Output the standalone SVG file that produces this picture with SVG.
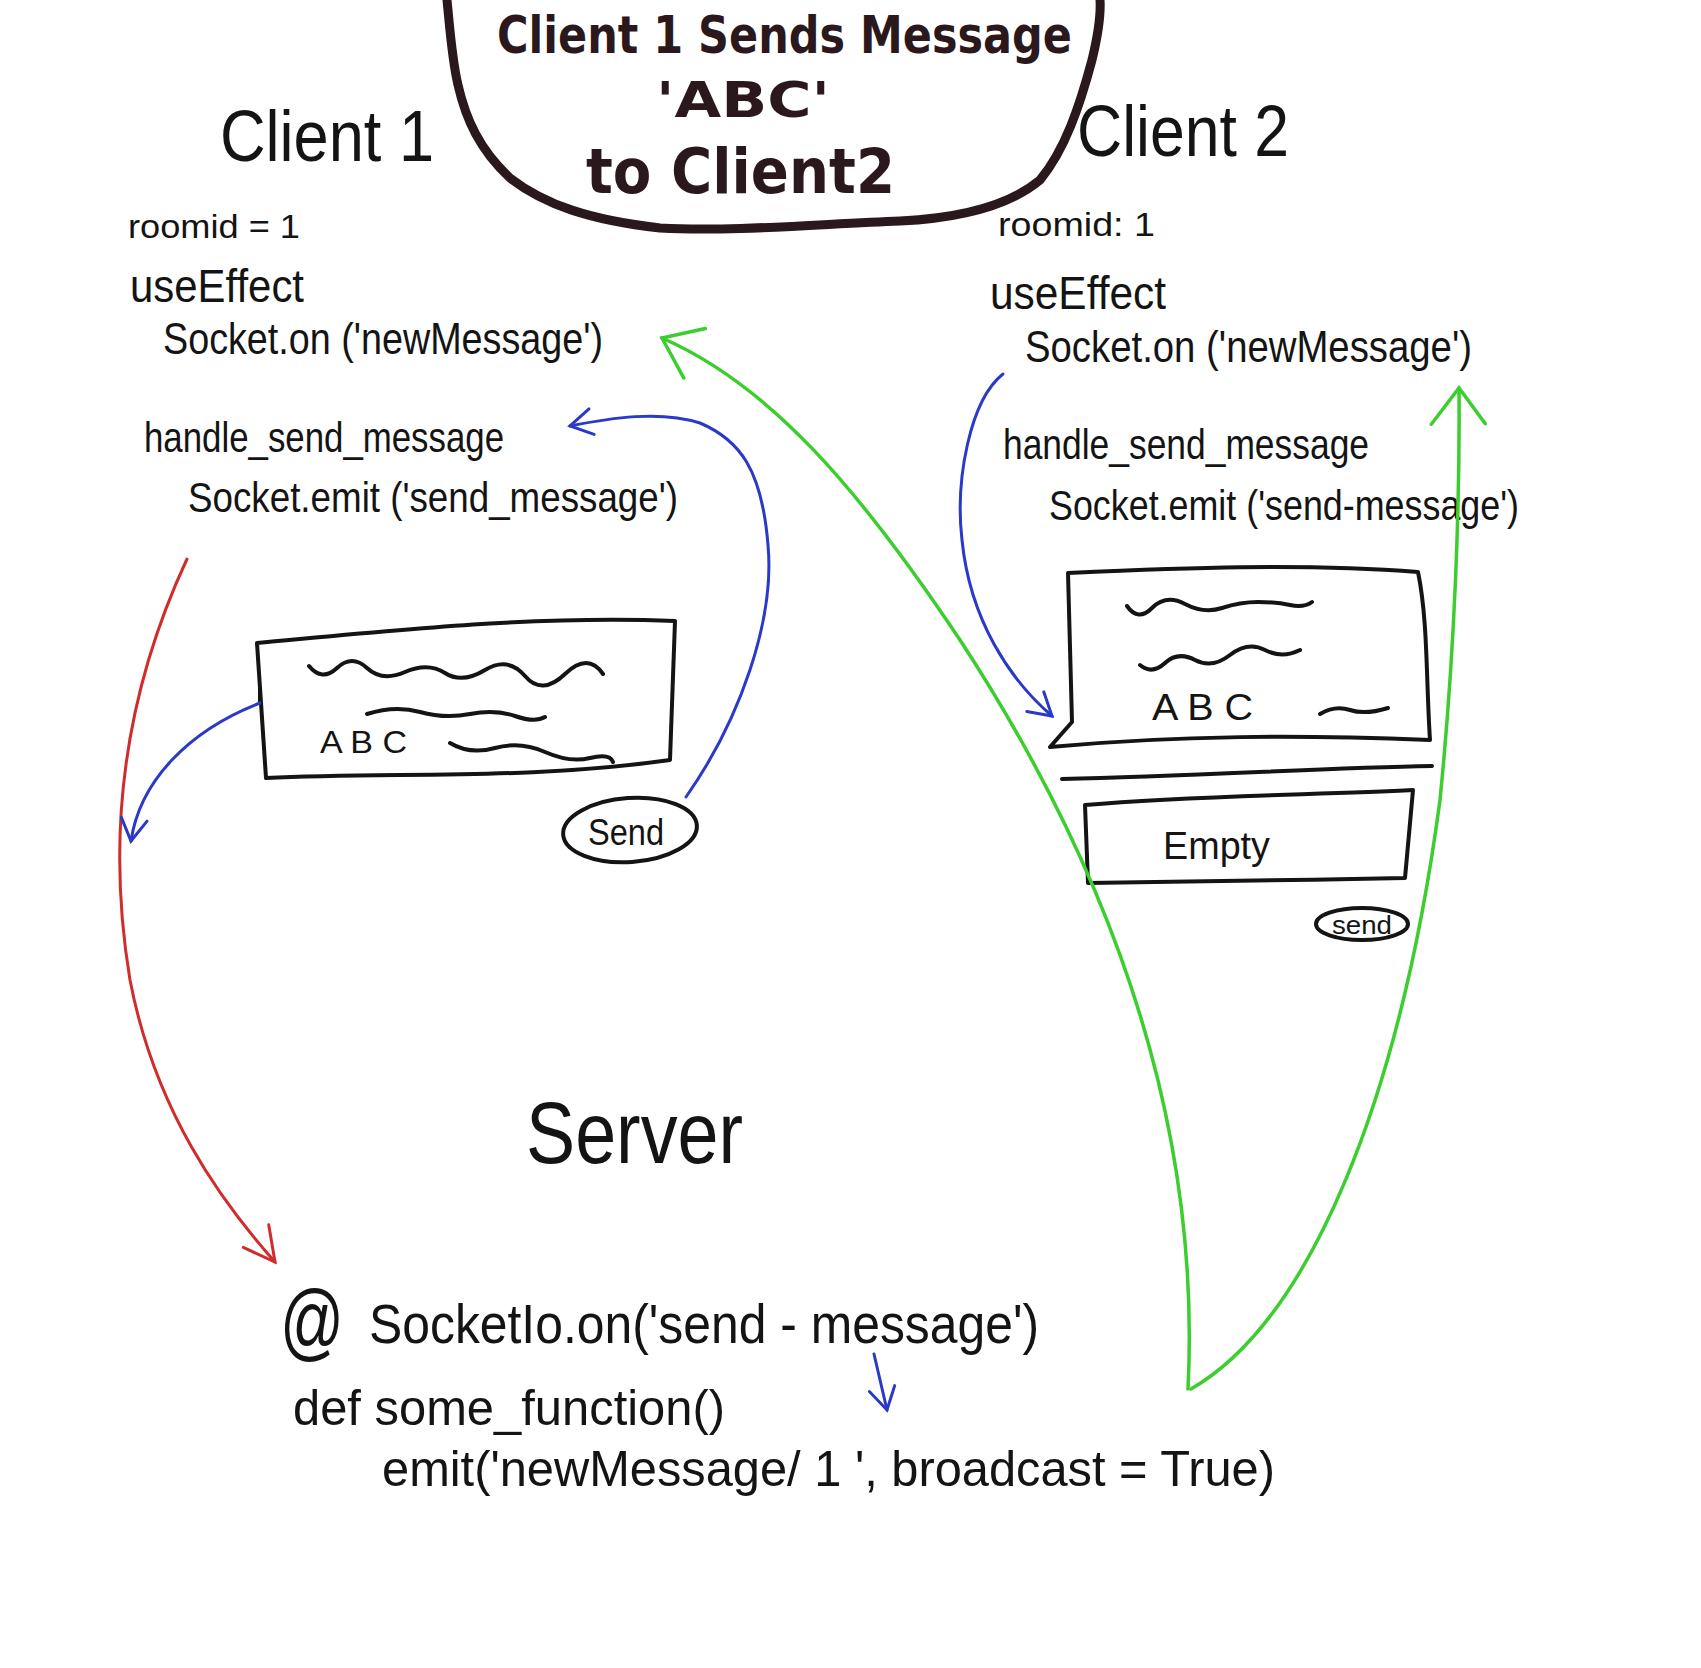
<svg xmlns="http://www.w3.org/2000/svg" width="1701" height="1668" viewBox="0 0 1701 1668">
<style>
.t{font-family:"Liberation Sans","DejaVu Sans",sans-serif;fill:#141414}
.ttl{font-family:"DejaVu Sans","Liberation Sans",sans-serif;font-weight:bold;fill:#2a181c}
.ink{fill:none;stroke:#141414;stroke-width:4;stroke-linecap:round;stroke-linejoin:round}
.red{fill:none;stroke:#d12c2c;stroke-width:3;stroke-linecap:round}
.blue{fill:none;stroke:#2b39c9;stroke-width:3;stroke-linecap:round}
.green{fill:none;stroke:#3ccd2e;stroke-width:3.5;stroke-linecap:round}
</style>
<defs>
<marker id="mr" markerUnits="userSpaceOnUse" viewBox="-40 -30 50 60" markerWidth="50" markerHeight="60" refX="0" refY="0" orient="auto" overflow="visible">
<path d="M-32 -20 L0 0 L-32 14" fill="none" stroke="#d12c2c" stroke-width="3" stroke-linecap="round"/>
</marker>
<marker id="mb" markerUnits="userSpaceOnUse" viewBox="-40 -30 50 60" markerWidth="50" markerHeight="60" refX="0" refY="0" orient="auto" overflow="visible">
<path d="M-22 -13 L0 0 L-22 13" fill="none" stroke="#2b39c9" stroke-width="3" stroke-linecap="round"/>
</marker>
<marker id="mg" markerUnits="userSpaceOnUse" viewBox="-60 -40 70 80" markerWidth="70" markerHeight="80" refX="0" refY="0" orient="auto" overflow="visible">
<path d="M-36 -28 L0 0 L-36 26" fill="none" stroke="#3ccd2e" stroke-width="3.5" stroke-linecap="round"/>
</marker>
</defs>
<rect width="1701" height="1668" fill="#ffffff"/>

<g id="title">
<path d="M447 0 C450 30 452 60 458 85 C466 120 480 150 510 178 C545 205 590 220 660 228 C730 232 820 224 900 221 C960 218 1010 205 1040 180 C1065 150 1080 105 1092 60 C1098 35 1101 15 1100 0" fill="none" stroke="#2a181c" stroke-width="9" stroke-linecap="round"/>
<text class="ttl" x="497" y="53" font-size="52" textLength="575" lengthAdjust="spacingAndGlyphs">Client 1 Sends Message</text>
<text class="ttl" x="656" y="117" font-size="50" textLength="174" lengthAdjust="spacingAndGlyphs">'ABC'</text>
<text class="ttl" x="586" y="193" font-size="62" textLength="309" lengthAdjust="spacingAndGlyphs">to Client2</text>
</g>

<g id="client1-code">
<text class="t" x="220" y="161" font-size="72" textLength="214" lengthAdjust="spacingAndGlyphs">Client  1</text>
<text class="t" x="128" y="238" font-size="34" textLength="172" lengthAdjust="spacingAndGlyphs">roomid = 1</text>
<text class="t" x="130" y="302" font-size="46" textLength="174" lengthAdjust="spacingAndGlyphs">useEffect</text>
<text class="t" x="163" y="354" font-size="44" textLength="440" lengthAdjust="spacingAndGlyphs">Socket.on ('newMessage')</text>
<text class="t" x="144" y="452" font-size="42" textLength="360" lengthAdjust="spacingAndGlyphs">handle_send_message</text>
<text class="t" x="188" y="512" font-size="42" textLength="490" lengthAdjust="spacingAndGlyphs">Socket.emit ('send_message')</text>
</g>

<g id="client1-chat">
<path class="ink" d="M257 643 C400 630 540 615 675 621 L670 760 C530 780 400 772 266 778 Z"/>
<path class="ink" d="M260 703 L260 690"/>
<path class="ink" d="M309 666 Q322 682 337 668 T367 668 T405 672 T445 673 T485 670 T525 676 T565 674 T603 674"/>
<path class="ink" d="M367 714 Q395 705 420 712 T470 714 T515 716 T545 717"/>
<path class="ink" d="M450 743 Q470 755 495 748 T545 752 T590 758 T613 762"/>
<text class="t" x="320" y="753" font-size="32" textLength="87" lengthAdjust="spacingAndGlyphs">A B C</text>
</g>

<g id="client1-send">
<ellipse class="ink" cx="630" cy="830" rx="67" ry="32" transform="rotate(-4 630 830)"/>
<text class="t" x="588" y="845" font-size="36" textLength="76" lengthAdjust="spacingAndGlyphs">Send</text>
</g>

<g id="client2-code">
<text class="t" x="1077" y="156" font-size="72" textLength="212" lengthAdjust="spacingAndGlyphs">Client 2</text>
<text class="t" x="998" y="236" font-size="34" textLength="157" lengthAdjust="spacingAndGlyphs">roomid: 1</text>
<text class="t" x="990" y="309" font-size="46" textLength="176" lengthAdjust="spacingAndGlyphs">useEffect</text>
<text class="t" x="1025" y="362" font-size="44" textLength="447" lengthAdjust="spacingAndGlyphs">Socket.on ('newMessage')</text>
<text class="t" x="1003" y="459" font-size="42" textLength="366" lengthAdjust="spacingAndGlyphs">handle_send_message</text>
<text class="t" x="1049" y="520" font-size="42" textLength="470" lengthAdjust="spacingAndGlyphs">Socket.emit ('send-message')</text>
</g>

<g id="client2-chat">
<path class="ink" d="M1068 573 L1072 722 L1050 747 C1180 735 1300 735 1430 740 C1426 680 1428 620 1418 572 C1300 563 1180 568 1068 573 Z"/>
<path class="ink" d="M1127 606 Q1138 622 1152 608 T1185 604 T1222 608 T1258 602 T1290 605 T1312 602"/>
<path class="ink" d="M1140 665 Q1152 675 1165 663 T1195 660 T1230 655 T1265 650 T1300 650"/>
<path class="ink" d="M1320 714 Q1335 705 1350 710 T1388 708"/>
<text class="t" x="1152" y="720" font-size="36" textLength="101" lengthAdjust="spacingAndGlyphs">A B C</text>
<path class="ink" d="M1062 779 C1200 776 1320 768 1432 766"/>
<path class="ink" d="M1085 805 C1200 795 1320 795 1413 790 L1405 878 C1300 880 1200 882 1088 883 Z"/>
<text class="t" x="1163" y="859" font-size="38" textLength="107" lengthAdjust="spacingAndGlyphs">Empty</text>
</g>

<g id="client2-send">
<ellipse class="ink" cx="1362" cy="924" rx="46" ry="16" stroke-width="3.5"/>
<text class="t" x="1332" y="934" font-size="26" textLength="60" lengthAdjust="spacingAndGlyphs">send</text>
</g>

<g id="server">
<text class="t" x="526" y="1163" font-size="88" textLength="217" lengthAdjust="spacingAndGlyphs">Server</text>
<text class="t" x="280" y="1350" font-size="86" textLength="64" lengthAdjust="spacingAndGlyphs">@</text>
<text class="t" x="369" y="1343" font-size="56" textLength="670" lengthAdjust="spacingAndGlyphs">SocketIo.on('send - message')</text>
<text class="t" x="293" y="1425" font-size="50" textLength="432" lengthAdjust="spacingAndGlyphs">def  some_function()</text>
<text class="t" x="382" y="1486" font-size="50" textLength="893" lengthAdjust="spacingAndGlyphs">emit('newMessage/ 1  ', broadcast = True)</text>
</g>

<g id="connectors">
<path class="red" d="M187 559 C140 660 100 800 130 980 C155 1110 220 1200 275 1262" marker-end="url(#mr)"/>
<path class="blue" d="M260 703 C190 730 140 780 131 841" marker-end="url(#mb)"/>
<path class="blue" d="M686 797 C740 720 775 620 768 545 C762 470 740 440 700 423 C660 410 610 418 570 426" marker-end="url(#mb)"/>
<path class="blue" d="M1003 374 C970 400 955 480 962 540 C970 620 1010 680 1052 716" marker-end="url(#mb)"/>
<path class="blue" d="M874 1354 L887 1410" marker-end="url(#mb)"/>
<path class="green" d="M1188 1389 C1200 1150 1130 900 960 640 C860 490 770 385 662 338" marker-end="url(#mg)"/>
<path class="green" d="M1191 1389 C1310 1320 1400 1100 1440 800 C1455 650 1460 500 1459 388" marker-end="url(#mg)"/>
</g>
</svg>
